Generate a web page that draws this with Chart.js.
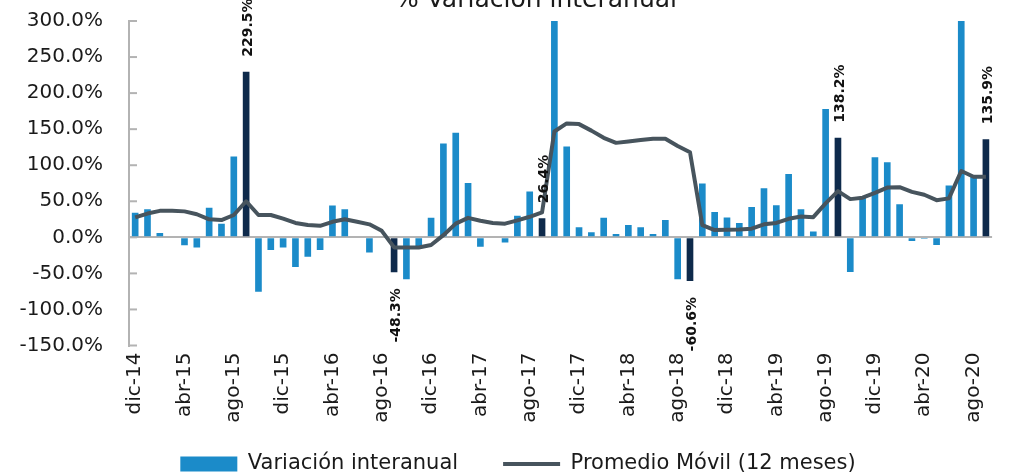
<!DOCTYPE html>
<html>
<head>
<meta charset="utf-8">
<script src="https://cdn.jsdelivr.net/npm/chart.js@4.4.0/dist/chart.umd.min.js"></script>
<style>
  html, body { margin: 0; padding: 0; background: #fff; }
  #wrap { width: 1017px; height: 476px; }
</style>
</head>
<body>
<div id="wrap"><canvas id="myChart"></canvas></div>
<script>
// meses (dic-14 .. sep-20)
var meses = [
  'dic-14',
  'ene-15','feb-15','mar-15','abr-15','may-15','jun-15','jul-15','ago-15','sep-15','oct-15','nov-15','dic-15',
  'ene-16','feb-16','mar-16','abr-16','may-16','jun-16','jul-16','ago-16','sep-16','oct-16','nov-16','dic-16',
  'ene-17','feb-17','mar-17','abr-17','may-17','jun-17','jul-17','ago-17','sep-17','oct-17','nov-17','dic-17',
  'ene-18','feb-18','mar-18','abr-18','may-18','jun-18','jul-18','ago-18','sep-18','oct-18','nov-18','dic-18',
  'ene-19','feb-19','mar-19','abr-19','may-19','jun-19','jul-19','ago-19','sep-19','oct-19','nov-19','dic-19',
  'ene-20','feb-20','mar-20','abr-20','may-20','jun-20','jul-20','ago-20','sep-20'
];

// etiquetas visibles del eje x
var tickLabels = ['dic-14','abr-15','ago-15','dic-15','abr-16','ago-16','dic-16','abr-17','ago-17',
  'dic-17','abr-18','ago-18','dic-18','abr-19','ago-19','dic-19','abr-20','ago-20'];

// Variacion interanual (%)
var variacion = [
  34, 39, 6, 0, -11, -14, 41, 19, 112, 229.5,
  -75.5, -17.5, -14, -41, -27, -17.5, 44, 39, 0, -21,
  0, -48.3, -58, -13, 27, 130, 145, 75.5, -13, 0,
  -7, 30, 63.5, 26.4, 330, 126, 14, 7, 27, 4.5,
  17, 14, 4.5, 24, -58, -60.6, 74.6, 35, 27.6, 20,
  42, 68, 44.6, 88, 39, 8, 178, 138.2, -48, 56,
  111, 104, 46, -5, -2, -10.6, 72, 330, 84, 135.9
];

// Promedio movil 12 meses (%)
var promedio = [
  27.6, 33, 36.7, 36.7, 36, 32, 25, 24, 31, 50,
  31, 31, 26, 20, 17, 16, 21.5, 25, 21.5, 18,
  9, -14, -14, -14, -10.6, 3, 19, 27, 23, 20,
  19, 23.5, 28.5, 34.5, 146.8, 158, 157, 148, 138, 131,
  133, 135, 136.7, 136.7, 126.6, 118, 17, 10, 10.5, 11,
  12, 18, 20, 25.7, 29, 28, 47, 64, 53, 55,
  61.6, 69, 69.5, 63, 59, 51.5, 54, 92, 84, 84
];

var azul = '#1b8bc9';
var azulOscuro = '#0e2a4b';
var gris = '#47545d';
var ejeGris = '#b3b3b3';

function esSep(i) { return meses[i].indexOf('sep') === 0; }

Chart.defaults.font.family = '"DejaVu Sans", sans-serif';
Chart.defaults.color = '#1a1a1a';

// titulo (cortado arriba como en el original)
const titulo = {
  id: 'titulo',
  afterDraw(chart) {
    const ctx = chart.ctx;
    ctx.save();
    ctx.font = '25px "DejaVu Sans"';
    ctx.fillStyle = '#1a1a1a';
    ctx.textAlign = 'center';
    ctx.textBaseline = 'alphabetic';
    ctx.fillText('% Variación interanual', 536, 6.5);
    ctx.restore();
  }
};

// colocar la leyenda (y ampliar su caja hasta el borde)
const moverLeyenda = {
  id: 'moverLeyenda',
  afterLayout(chart) {
    if (chart.legend) {
      chart.legend.top -= 16.5;
      chart.legend.bottom = chart.height;
      chart.legend.left += 16;
      chart.legend.right += 16;
    }
  }
};

// marcas cortas del eje y hacia dentro
const marcas = {
  id: 'marcas',
  beforeDatasetsDraw(chart) {
    const ctx = chart.ctx;
    const y = chart.scales.y;
    const left = chart.chartArea.left;
    ctx.save();
    ctx.strokeStyle = ejeGris;
    ctx.lineWidth = 2;
    y.ticks.forEach(function (t) {
      const py = y.getPixelForValue(t.value);
      ctx.beginPath();
      ctx.moveTo(left, py);
      ctx.lineTo(left + 8, py);
      ctx.stroke();
    });
    ctx.restore();
  }
};

// valores de las barras de septiembre
const etiquetas = {
  id: 'etiquetas',
  afterDatasetsDraw(chart) {
    const ctx = chart.ctx;
    const meta = chart.getDatasetMeta(0);
    ctx.save();
    ctx.font = 'bold 14px "DejaVu Sans"';
    ctx.fillStyle = '#111';
    ctx.textBaseline = 'middle';
    meta.data.forEach(function (bar, i) {
      if (!esSep(i)) return;
      const v = variacion[i];
      const txt = v.toFixed(1) + '%';
      ctx.save();
      if (v >= 0) {
        ctx.translate(bar.x + 2, bar.y - 15);
        ctx.rotate(-Math.PI / 2);
        ctx.textAlign = 'left';
      } else {
        ctx.translate(bar.x + 2, bar.y + 16);
        ctx.rotate(-Math.PI / 2);
        ctx.textAlign = 'right';
      }
      ctx.fillText(txt, 0, 0);
      ctx.restore();
    });
    ctx.restore();
  }
};

const ctx = document.getElementById('myChart');
const myChart = new Chart(ctx, {
  type: 'bar',
  data: {
    labels: meses,
    datasets: [{
      type: 'bar',
      label: 'Variación interanual',
      data: variacion,
      backgroundColor: function (c) { return esSep(c.dataIndex) ? azulOscuro : azul; },
      borderWidth: 0,
      barPercentage: 0.54,
      categoryPercentage: 1,
      pointStyle: 'rect',
      order: 1
    }, {
      type: 'line',
      label: 'Promedio Móvil (12 meses)',
      data: promedio,
      borderColor: gris,
      backgroundColor: gris,
      borderWidth: 4,
      pointRadius: 0,
      tension: 0,
      borderJoinStyle: 'round',
      pointStyle: 'line',
      order: 0
    }]
  },
  options: {
    responsive: true,
    maintainAspectRatio: false,
    animation: false,
    layout: { padding: { top: 21, left: 0, right: 13, bottom: 0 } },
    plugins: {
      title: { display: false },
      tooltip: { enabled: false },
      legend: {
        position: 'bottom',
        maxHeight: 51,
        labels: {
          usePointStyle: true,
          pointStyleWidth: 57,
          boxHeight: 15,
          padding: 45,
          color: '#1a1a1a',
          font: { size: 21 },
          sort: function (a, b) { return a.datasetIndex - b.datasetIndex; }
        }
      }
    },
    scales: {
      x: {
        grid: { display: false, drawTicks: false },
        border: { display: false },
        ticks: {
          autoSkip: false,
          minRotation: 90,
          maxRotation: 90,
          padding: 7,
          font: { size: 20 },
          color: '#1a1a1a',
          callback: function (v, i) { return tickLabels.indexOf(meses[i]) >= 0 ? meses[i] : ''; }
        },
        afterFit: function (s) { s.height = 79.5; }
      },
      y: {
        min: -150,
        max: 300,
        ticks: {
          stepSize: 50,
          padding: 26,
          font: { size: 20 },
          color: '#1a1a1a',
          callback: function (v) { return v.toFixed(1) + '%'; }
        },
        grid: {
          drawTicks: false,
          lineWidth: 2,
          color: function (c) { return c.tick && c.tick.value === 0 ? ejeGris : 'rgba(0,0,0,0)'; }
        },
        border: { display: true, color: ejeGris, width: 2 },
        afterFit: function (s) { s.width = 129; s.paddingTop = 0; s.paddingBottom = 0; }
      }
    }
  },
  plugins: [titulo, moverLeyenda, marcas, etiquetas]
});
</script>
</body>
</html>
